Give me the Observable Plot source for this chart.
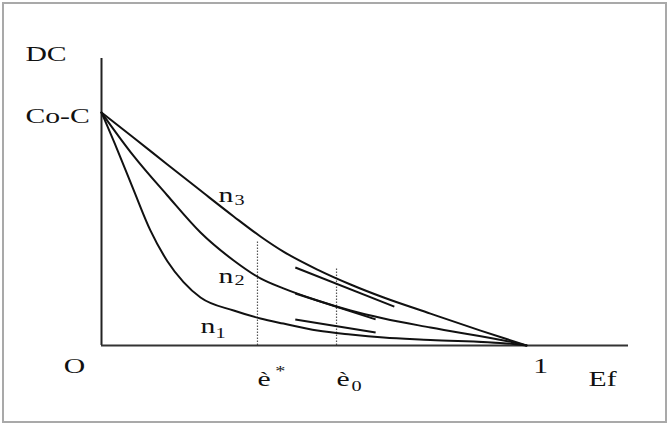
<!DOCTYPE html>
<html><head><meta charset="utf-8">
<script src="https://cdn.jsdelivr.net/npm/d3@7"></script>
<script src="https://cdn.jsdelivr.net/npm/@observablehq/plot@0.6"></script>
<style>
body{margin:0;background:#fff;}
#wrap{position:relative;width:672px;height:427px;}
#wrap svg{position:absolute;left:0;top:0;}
#border{position:absolute;left:2px;top:2px;width:665px;height:421px;box-sizing:border-box;border:2px solid #a9a9a9;pointer-events:none;}
</style></head><body><div id="wrap"><div id="border"></div></div>
<script>
// Curves (x = efficiency Ef in [0,1], y = DC relative to Co-C)
const n3X = [0, 0.075, 0.155, 0.233, 0.311, 0.374, 0.428, 0.508, 0.586, 0.664, 0.774, 0.892, 1];
const n3Y = [1, 0.893, 0.777, 0.665, 0.554, 0.468, 0.403, 0.326, 0.262, 0.206, 0.137, 0.064, 0];
const n2X = [0, 0.075, 0.155, 0.233, 0.311, 0.374, 0.428, 0.508, 0.586, 0.664, 0.774, 0.969, 1];
const n2Y = [1, 0.815, 0.644, 0.485, 0.365, 0.288, 0.245, 0.193, 0.150, 0.116, 0.077, 0.013, 0];
const n1X = [0, 0.038, 0.075, 0.115, 0.155, 0.193, 0.233, 0.311, 0.374, 0.428, 0.508, 0.586, 0.664, 0.774, 0.969, 1];
const n1Y = [1, 0.837, 0.670, 0.494, 0.362, 0.272, 0.206, 0.150, 0.116, 0.094, 0.064, 0.047, 0.034, 0.024, 0.006, 0];

// Tangent segments near è0
const tanX1 = [0.456, 0.456, 0.456];
const tanY1 = [0.335, 0.223, 0.112];
const tanX2 = [0.689, 0.645, 0.645];
const tanY2 = [0.167, 0.112, 0.056];

// Dotted markers: è* and è0
const markX = [0.367, 0.553];
const markTop = [0.446, 0.335];

// Axis extents
const xMax = 1.24, yMax = 1.232;

// Labels (baseline-left anchor, data units)
const labText = ["DC", "Co-C", "O", "1", "Ef", "è", "è", "n", "n", "n"];
const labX = [-0.179, -0.179, -0.089, 1.016, 1.146, 0.367, 0.553, 0.275, 0.275, 0.233];
const labY = [1.223, 0.957, -0.116, -0.116, -0.172, -0.172, -0.172, 0.614, 0.270, 0.052];
const subText = ["*", "0", "3", "2", "1"];
const subX = [0.409, 0.588, 0.313, 0.313, 0.268];
const subY = [-0.133, -0.197, 0.601, 0.258, 0.034];

const toPts = (X, Y) => X.map((x, i) => ({x, y: Y[i]}));
const curves = [toPts(n1X, n1Y), toPts(n2X, n2Y), toPts(n3X, n3Y)];
const tangents = tanX1.map((x1, i) => ({x1, y1: tanY1[i], x2: tanX2[i], y2: tanY2[i]}));
const marks = markX.map((x, i) => ({x, top: markTop[i]}));
const labels = labText.map((t, i) => ({t, x: labX[i], y: labY[i]}));
const subs = subText.map((t, i) => ({t, x: subX[i], y: subY[i]}));

const chart = Plot.plot({
  width: 672, height: 427,
  marginLeft: 101, marginRight: 44, marginTop: 58, marginBottom: 82,
  x: {domain: [0, xMax], axis: null},
  y: {domain: [0, yMax], axis: null},
  style: {fontFamily: "'Liberation Serif', 'Times New Roman', serif", background: "transparent", overflow: "visible"},
  marks: [
    Plot.ruleX(marks, {x: "x", y1: 0, y2: "top", stroke: "#555", strokeWidth: 1.2, strokeDasharray: "1.5,1.5"}),
    Plot.ruleX([0], {y1: 0, y2: yMax, stroke: "#222", strokeWidth: 2}),
    Plot.ruleY([0], {x1: 0, x2: xMax, stroke: "#333", strokeWidth: 2}),
    ...curves.map(c => Plot.line(c, {x: "x", y: "y", curve: "monotone-x", stroke: "#111", strokeWidth: 2})),
    Plot.link(tangents, {x1: "x1", y1: "y1", x2: "x2", y2: "y2", stroke: "#111", strokeWidth: 2}),
    Plot.text(labels, {x: "x", y: "y", text: "t", textAnchor: "start", lineAnchor: "bottom", fontSize: 22, fill: "#111"}),
    Plot.text(subs, {x: "x", y: "y", text: "t", textAnchor: "start", lineAnchor: "bottom", fontSize: 15, fill: "#111"})
  ]
});
chart.querySelectorAll("text").forEach(t => {
  const tr = t.getAttribute("transform");
  if (tr) t.setAttribute("transform", tr + " scale(1.35,1)");
});
document.getElementById("wrap").insertBefore(chart, document.getElementById("border"));
</script>
</body></html>
